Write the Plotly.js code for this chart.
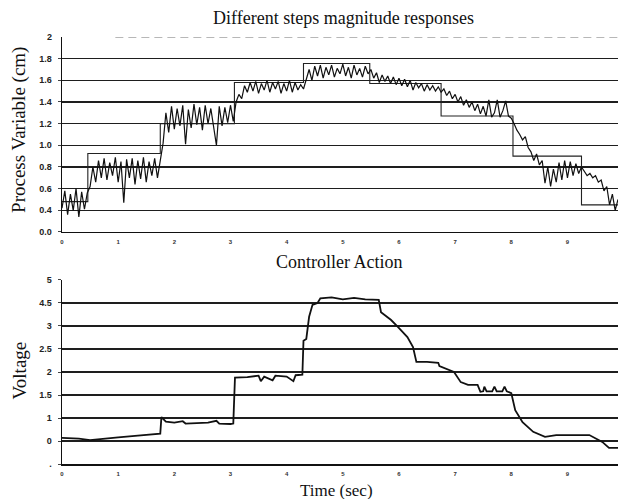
<!DOCTYPE html>
<html>
<head>
<meta charset="utf-8">
<script src="https://cdn.plot.ly/plotly-3.0.1.min.js"></script>
<style>html,body{margin:0;padding:0;background:#fff;}#chart{width:620px;height:499px;}</style>
</head>
<body>
<div id="chart"></div>
<script>
// ---- Process variable: set-point (step) ----
const spTime  = [0, 0.46, 1.75, 3.07, 4.30, 5.48, 6.75, 8.03, 9.25, 9.90];
const spValue = [0.48, 0.925, 1.20, 1.58, 1.755, 1.57, 1.27, 0.90, 0.45, 0.45];

// ---- Process variable: measured response (cm) ----
const respTime = [
 0.00,0.05,0.10,0.15,0.20,0.25,0.30,0.35,0.40,0.45,0.50,0.55,0.60,0.65,0.70,0.75,0.80,0.85,0.90,0.95,
 1.00,1.05,1.10,1.15,1.20,1.25,1.30,1.35,1.40,1.45,1.50,1.55,1.60,1.65,1.70,1.75,1.80,1.85,1.90,1.95,
 2.00,2.05,2.10,2.15,2.20,2.25,2.30,2.35,2.40,2.45,2.50,2.55,2.60,2.65,2.70,2.75,2.80,2.85,2.90,2.95,
 3.00,3.05,3.10,3.15,3.20,3.25,3.30,3.35,3.40,3.45,3.50,3.55,3.60,3.65,3.70,3.75,3.80,3.85,3.90,3.95,
 4.00,4.05,4.10,4.15,4.20,4.25,4.30,4.35,4.40,4.45,4.50,4.55,4.60,4.65,4.70,4.75,4.80,4.85,4.90,4.95,
 5.00,5.05,5.10,5.15,5.20,5.25,5.30,5.35,5.40,5.45,5.50,5.55,5.60,5.65,5.70,5.75,5.80,5.85,5.90,5.95,
 6.00,6.05,6.10,6.15,6.20,6.25,6.30,6.35,6.40,6.45,6.50,6.55,6.60,6.65,6.70,6.75,6.80,6.85,6.90,6.95,
 7.00,7.05,7.10,7.15,7.20,7.25,7.30,7.35,7.40,7.45,7.50,7.55,7.60,7.65,7.70,7.75,7.80,7.85,7.90,7.95,
 8.00,8.05,8.10,8.15,8.20,8.25,8.30,8.35,8.40,8.45,8.50,8.55,8.60,8.65,8.70,8.75,8.80,8.85,8.90,8.95,
 9.00,9.05,9.10,9.15,9.20,9.25,9.30,9.35,9.40,9.45,9.50,9.55,9.60,9.65,9.70,9.75,9.80,9.85,9.90
];
const respValue = [
 0.42,0.58,0.36,0.55,0.40,0.60,0.34,0.57,0.41,0.56,0.62,0.80,0.66,0.86,0.70,0.88,0.68,0.84,0.72,0.89,
 0.66,0.85,0.47,0.87,0.70,0.88,0.64,0.86,0.69,0.89,0.66,0.85,0.72,0.88,0.70,0.86,1.02,1.30,1.12,1.36,
 1.15,1.34,1.18,1.37,1.01,1.33,1.16,1.38,1.19,1.35,1.14,1.37,1.20,1.34,1.17,1.00,1.36,1.18,1.35,1.21,
 1.37,1.22,1.40,1.47,1.43,1.55,1.49,1.58,1.50,1.59,1.48,1.57,1.51,1.60,1.49,1.58,1.52,1.59,1.48,1.57,
 1.50,1.60,1.49,1.58,1.51,1.56,1.52,1.62,1.70,1.60,1.73,1.64,1.74,1.62,1.72,1.65,1.74,1.63,1.71,1.66,
 1.75,1.64,1.72,1.62,1.74,1.65,1.71,1.63,1.73,1.66,1.70,1.62,1.67,1.58,1.65,1.59,1.64,1.57,1.63,1.56,
 1.62,1.55,1.61,1.54,1.60,1.51,1.58,1.53,1.57,1.50,1.56,1.51,1.55,1.50,1.54,1.49,1.52,1.46,1.50,1.43,
 1.47,1.40,1.45,1.37,1.42,1.35,1.40,1.32,1.38,1.29,1.36,1.27,1.42,1.26,1.30,1.42,1.26,1.32,1.41,1.27,
 1.25,1.20,1.14,1.10,1.05,1.08,0.98,0.94,0.86,0.92,0.82,0.86,0.65,0.80,0.62,0.78,0.66,0.84,0.68,0.86,
 0.70,0.85,0.72,0.83,0.74,0.80,0.76,0.72,0.74,0.70,0.72,0.66,0.68,0.58,0.62,0.45,0.55,0.40,0.50
];

// ---- Controller action (voltage, axis units) ----
const vTime = [
 0.00,0.30,0.50,0.80,1.00,1.30,1.50,1.75,1.77,1.85,2.00,2.15,2.20,2.40,2.60,2.75,2.80,3.00,3.05,3.08,
 3.30,3.50,3.54,3.60,3.75,3.80,4.00,4.12,4.16,4.28,4.30,4.35,4.40,4.46,4.55,4.60,4.80,5.00,5.20,5.40,
 5.64,5.68,5.86,5.98,6.15,6.25,6.31,6.50,6.70,6.72,6.98,7.10,7.23,7.40,7.45,7.50,7.52,7.56,7.66,7.70,
 7.74,7.84,7.88,7.92,8.00,8.07,8.20,8.39,8.60,8.80,9.10,9.39,9.62,9.74,9.90
];
const vValue = [
 0.57,0.55,0.52,0.56,0.58,0.61,0.63,0.66,1.02,0.92,0.90,0.93,0.88,0.89,0.90,0.94,0.88,0.87,0.88,1.88,
 1.89,1.92,1.80,1.90,1.82,1.92,1.90,1.80,1.93,1.94,2.68,2.72,3.20,3.46,3.50,3.60,3.62,3.58,3.61,3.58,
 3.57,3.30,3.13,2.98,2.76,2.54,2.22,2.22,2.20,2.13,2.00,1.78,1.72,1.72,1.57,1.58,1.68,1.58,1.58,1.68,
 1.58,1.58,1.68,1.58,1.54,1.17,0.91,0.70,0.59,0.63,0.63,0.63,0.48,0.35,0.35
];

// ---- Tick labels ----
const xTickVals = [0,1,2,3,4,5,6,7,8,9];
const xTickText = ['0','1','2','3','4','5','6','7','8','9'];
const pvTickVals = [0.2,0.4,0.6,0.8,1.0,1.2,1.4,1.6,1.8];
const pvTickText = ['0.0','0.4','0.6','0.8','1.0','1.2','1.4','1.6','1.8'];
const vTickVals = [0,0.5,1,1.5,2,2.5,3,3.5,4];
const vTickText = ['.','0','1','1.5','2','2.5','3','4.5','5'];

const tickFont = {family:'Arial, Liberation Sans, sans-serif', size:9, color:'#222', weight:'bold'};
const xtFont = {family:'Arial, Liberation Sans, sans-serif', size:6, color:'#333', weight:'bold'};
const serif = 'Liberation Serif, Times New Roman, serif';

const traces = [
  {x:spTime, y:spValue, xaxis:'x', yaxis:'y', mode:'lines', line:{shape:'hv', color:'#222', width:1.1}, hoverinfo:'skip'},
  {x:respTime, y:respValue, xaxis:'x', yaxis:'y', mode:'lines', line:{color:'#111', width:1.2}, hoverinfo:'skip'},
  {x:vTime, y:vValue, xaxis:'x2', yaxis:'y2', mode:'lines', line:{color:'#111', width:1.8}, hoverinfo:'skip'}
];

const xCommon = {
  range:[0,9.9], tickvals:xTickVals, ticktext:xTickText, tickfont:xtFont,
  showgrid:false, zeroline:false, showline:true, linecolor:'#111', linewidth:1.5,
  ticks:'', ticklabelstandoff:3, fixedrange:true
};
const yCommon = {
  showgrid:true, gridcolor:'#1e1e1e', gridwidth:1.5,
  zeroline:false, showline:true, linecolor:'#111', linewidth:1.5,
  ticks:'outside', ticklen:3, tickcolor:'#444', tickfont:tickFont, ticklabelstandoff:4, fixedrange:true
};

const layout = {
  width:620, height:499,
  margin:{l:62, r:2, t:0, b:0},
  paper_bgcolor:'#fff', plot_bgcolor:'#fff',
  showlegend:false,
  xaxis: Object.assign({}, xCommon, {domain:[0,1], anchor:'y'}),
  yaxis: Object.assign({}, yCommon, {domain:[0.5351,0.9259], range:[0.2,2.0], tickvals:pvTickVals, ticktext:pvTickText, anchor:'x'}),
  xaxis2: Object.assign({}, xCommon, {domain:[0,1], anchor:'y2'}),
  yaxis2: Object.assign({}, yCommon, {domain:[0.0701,0.4389], range:[0,4], tickvals:vTickVals, ticktext:vTickText, anchor:'x2'}),
  shapes:[
    {type:'line', xref:'x', yref:'y', x0:0.95, x1:9.9, y0:2.0, y1:2.0, line:{color:'#666', width:1, dash:'8px,5px'}}
  ],
  annotations:[
    {xref:'paper', yref:'y', x:0, y:2.0, xanchor:'right', yanchor:'middle', xshift:-8, text:'2', showarrow:false, font:tickFont},
    {xref:'paper', yref:'paper', x:0.506, y:0.964, xanchor:'center', yanchor:'middle', text:'Different steps magnitude responses', showarrow:false, font:{family:serif, size:18, color:'#111'}},
    {xref:'paper', yref:'paper', x:0.498, y:0.475, xanchor:'center', yanchor:'middle', text:'Controller Action', showarrow:false, font:{family:serif, size:18, color:'#111'}},
    {xref:'paper', yref:'paper', x:0.494, y:0.018, xanchor:'center', yanchor:'middle', text:'Time (sec)', showarrow:false, font:{family:serif, size:17, color:'#111'}},
    {xref:'paper', yref:'paper', x:-0.077, y:0.74, xanchor:'center', yanchor:'middle', text:'Process Variable (cm)', textangle:-90, showarrow:false, font:{family:serif, size:19, color:'#111'}},
    {xref:'paper', yref:'paper', x:-0.077, y:0.258, xanchor:'center', yanchor:'middle', text:'Voltage', textangle:-90, showarrow:false, font:{family:serif, size:19, color:'#111'}}
  ]
};

Plotly.newPlot('chart', traces, layout, {displayModeBar:false, staticPlot:true});
</script>
</body>
</html>
